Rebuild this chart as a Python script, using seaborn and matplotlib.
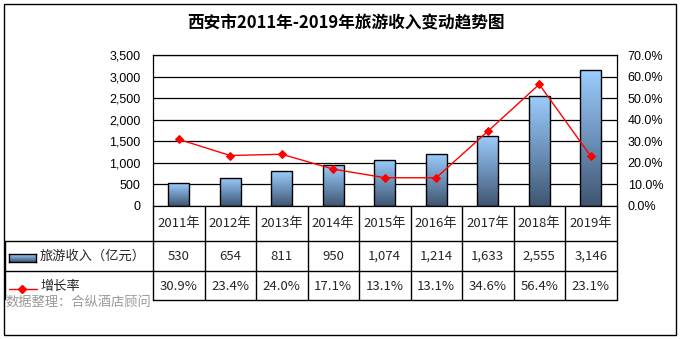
import numpy as np
import pandas as pd
import matplotlib
matplotlib.use('Agg')
import matplotlib.pyplot as plt
import seaborn as sns
from matplotlib.lines import Line2D
from matplotlib.patches import Rectangle
import matplotlib.transforms as mtransforms
from matplotlib.colors import LinearSegmentedColormap

# ---------------- data ----------------
years = ['2011年', '2012年', '2013年', '2014年', '2015年', '2016年', '2017年', '2018年', '2019年']
revenue = [530, 654, 811, 950, 1074, 1214, 1633, 2555, 3146]
growth = [30.9, 23.4, 24.0, 17.1, 13.1, 13.1, 34.6, 56.4, 23.1]
title = '西安市2011年-2019年旅游收入变动趋势图'
bar_name = '旅游收入（亿元）'
line_name = '增长率'
source = '数据整理：合纵酒店顾问'
left_ticks = [0, 500, 1000, 1500, 2000, 2500, 3000, 3500]
right_ticks = [0, 10, 20, 30, 40, 50, 60, 70]

sns.set_theme(style='white')
plt.rcParams['font.family'] = ['Noto Sans CJK SC', 'DejaVu Sans']

W, H = 682, 339
fig = plt.figure(figsize=(W / 100, H / 100), dpi=100)
pix = mtransforms.Affine2D().scale(1 / W, -1 / H).translate(0, 1) + fig.transFigure

L, R, T, B = 153, 616.5, 55, 206
ax = fig.add_axes([L / W, 1 - B / H, (R - L) / W, (B - T) / H])
df = pd.DataFrame({'year': years, 'rev': revenue, 'g': growth})

sns.barplot(data=df, x='year', y='rev', ax=ax, width=0.4, color='#6f9bc8',
            edgecolor='black', linewidth=1, zorder=3, saturation=1)

cmap = LinearSegmentedColormap.from_list('bar', ['#3f5570', '#6d92bb', '#9ccdfd'])
grad = np.linspace(0, 1, 256).reshape(-1, 1)
for p in list(ax.patches):
    x0, y0, w, h = p.get_x(), p.get_y(), p.get_width(), p.get_height()
    im = ax.imshow(grad, extent=[x0, x0 + w, y0, y0 + h], origin='lower',
                   aspect='auto', cmap=cmap, zorder=2.5)
    im.set_clip_path(p)
    p.set_facecolor('none')
    p.set_zorder(3)

ax.set_xlim(-0.5, 8.5)
ax.set_ylim(0, 3500)
ax.set_yticks(left_ticks)
ax.set_yticklabels([f'{v:,}' for v in left_ticks], fontsize=9, family='Liberation Sans')
ax.tick_params(axis='y', length=0, pad=9, colors='black')
ax.tick_params(axis='x', length=0, labelbottom=False)
ax.set_xlabel('')
ax.set_ylabel('')
ax.yaxis.grid(True, color='black', lw=0.9)
ax.set_axisbelow(True)
for s in ax.spines.values():
    s.set_visible(True)
    s.set_color('black')
    s.set_linewidth(0.9)

ax2 = ax.twinx()
sns.pointplot(data=df, x='year', y='g', ax=ax2, color='red', markers='D',
              markersize=4.5, linewidth=1)
ax2.set_xlim(-0.5, 8.5)
ax2.set_ylim(0, 70)
ax2.set_yticks(right_ticks)
ax2.set_yticklabels([f'{v:.1f}%' for v in right_ticks], fontsize=9, family='Liberation Sans')
ax2.tick_params(axis='y', length=0, pad=8, colors='black')
ax2.set_ylabel('')
ax2.set_xlabel('')
ax2.grid(False)
for s in ax2.spines.values():
    s.set_visible(False)

# ---------------- title ----------------
fig.text(346 / W, 1 - 23 / H, title, ha='center', va='center', fontsize=12,
         fontweight='bold', color='black')

# ---------------- data table ----------------
bt = mtransforms.blended_transform_factory(ax.transData, pix)
lw = 1
for i in range(len(years) + 1):
    fig.add_artist(Line2D([i - 0.5, i - 0.5], [206, 300], transform=bt, color='black', lw=lw))
for yy in (241, 271):
    fig.add_artist(Line2D([5, R], [yy, yy], transform=pix, color='black', lw=lw))
fig.add_artist(Line2D([L, R], [300, 300], transform=pix, color='black', lw=lw))
fig.add_artist(Line2D([5, 5], [241, 299], transform=pix, color='black', lw=lw))

fs = 9.5
for i, (yr, v, g) in enumerate(zip(years, revenue, growth)):
    fig.text(i, 223.5, yr, transform=bt, ha='center', va='center', fontsize=fs)
    fig.text(i, 256.5, f'{v:,}', transform=bt, ha='center', va='center', fontsize=fs)
    fig.text(i, 286.5, f'{g:.1f}%', transform=bt, ha='center', va='center', fontsize=fs)

fig.text(40, 256.5, bar_name, transform=pix, ha='left', va='center', fontsize=fs)
fig.text(40, 286.5, line_name, transform=pix, ha='left', va='center', fontsize=fs)

# legend keys
kax = fig.add_axes([9 / W, 1 - 262 / H, 27 / W, 8 / H])
kax.imshow(grad, origin='lower', aspect='auto', cmap=cmap, extent=[0, 1, 0, 1])
kax.set_xticks([])
kax.set_yticks([])
for s in kax.spines.values():
    s.set_visible(True)
    s.set_color('black')
    s.set_linewidth(1)
fig.add_artist(Line2D([9, 37], [289, 289], transform=pix, color='red', lw=1))
fig.add_artist(Line2D([22], [289], transform=pix, color='red', marker='D', markersize=4.5, lw=0))

# source note
fig.text(5, 302.5, source, transform=pix, ha='left', va='center', fontsize=fs, color='#9a9a9a')

# outer frame
fig.add_artist(Rectangle((3.5, 3.5), 672, 331, transform=pix, fill=False,
                         edgecolor='black', lw=1))

fig.savefig('out.png', dpi=100)
